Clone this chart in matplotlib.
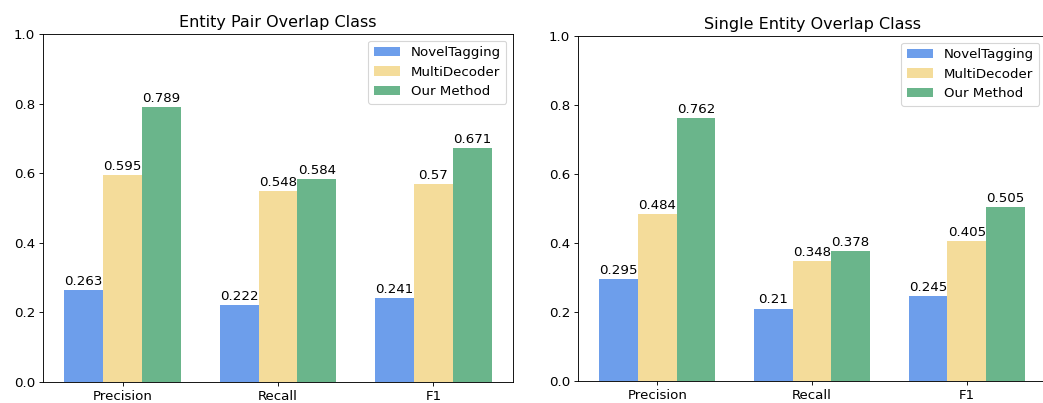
import numpy as np
import matplotlib.pyplot as plt

metrics = ['Precision', 'Recall', 'F1']
methods = ['NovelTagging', 'MultiDecoder', 'Our Method']
colors = ['#6d9eeb', '#f4dc9a', '#6ab58b']

pair_novel = [0.263, 0.222, 0.241]
pair_multi = [0.595, 0.548, 0.57]
pair_ours = [0.789, 0.584, 0.671]

single_novel = [0.295, 0.21, 0.245]
single_multi = [0.484, 0.348, 0.405]
single_ours = [0.762, 0.378, 0.505]

plt.rcParams['font.size'] = 12


def draw(ax, title, series):
    x = np.arange(len(metrics))
    width = 0.25
    for i, (vals, name) in enumerate(zip(series, methods)):
        bars = ax.bar(x + (i - 1) * width, vals, width, color=colors[i], label=name)
        for b, v in zip(bars, vals):
            ax.text(b.get_x() + b.get_width() / 2, v + 0.006, str(v),
                    ha='center', va='bottom')
    ax.set_xticks(x)
    ax.set_xticklabels(metrics)
    ax.set_ylim(0, 1.0)
    ax.set_title(title)
    ax.legend(loc='upper right')


fig = plt.figure(figsize=(1043 / 80, 403 / 80), dpi=80)
ax1 = fig.add_axes([43 / 1043, 1 - 382 / 403, 470 / 1043, 348 / 403])
ax2 = fig.add_axes([578 / 1043, 1 - 381 / 403, 468 / 1043, 345 / 403])

draw(ax1, 'Entity Pair Overlap Class', [pair_novel, pair_multi, pair_ours])
draw(ax2, 'Single Entity Overlap Class', [single_novel, single_multi, single_ours])

fig.savefig('out.png', dpi=80)
